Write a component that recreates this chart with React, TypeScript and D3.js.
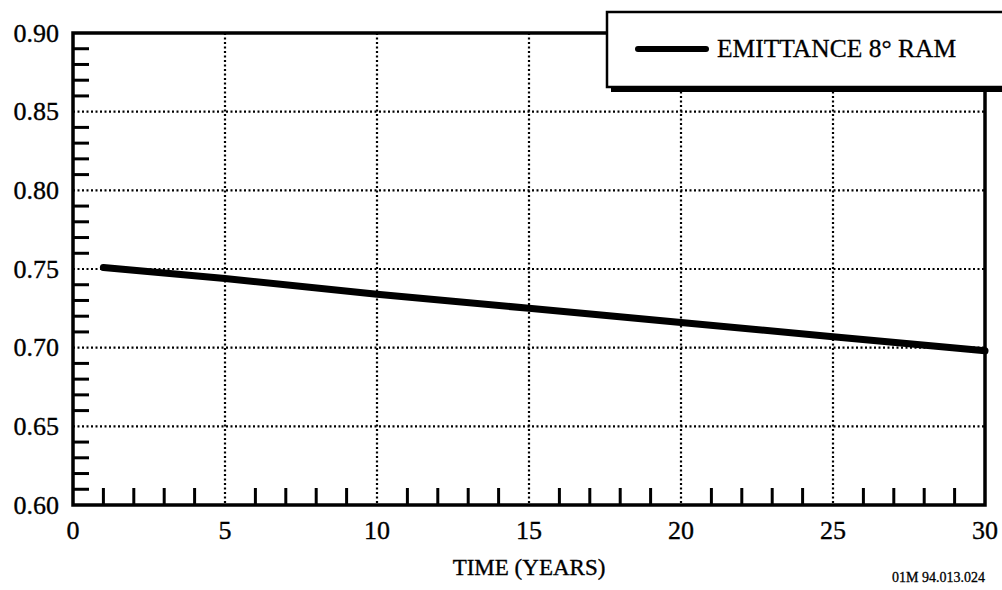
import { useEffect, useRef } from 'react';
import * as d3 from 'd3';

// Emittance at 8 degrees RAM over time
const years = [1, 5, 10, 15, 20, 25, 30];
const emittance = [0.751, 0.744, 0.734, 0.725, 0.716, 0.707, 0.698];

const xTicks = [0, 5, 10, 15, 20, 25, 30];
const yTicks = [0.6, 0.65, 0.7, 0.75, 0.8, 0.85, 0.9];
const legendLabel = 'EMITTANCE 8° RAM';
const xTitle = 'TIME (YEARS)';
const figureId = '01M 94.013.024';

const App = () => {
  const svgRef = useRef<SVGSVGElement>(null);

  useEffect(() => {
    if (!svgRef.current) return;
    const root = d3.select(svgRef.current);
    root.selectAll('*').remove();

    const margin = { top: 33, right: 17, bottom: 85, left: 73 };
    const width = 1002 - margin.left - margin.right;
    const height = 590 - margin.top - margin.bottom;
    const font = '"Liberation Serif", "Times New Roman", serif';

    const svg = root.append('g').attr('transform', `translate(${margin.left},${margin.top})`);

    const x = d3.scaleLinear().domain([0, 30]).range([0, width]);
    const y = d3.scaleLinear().domain([0.6, 0.9]).range([height, 0]);

    // Dotted grid
    svg
      .selectAll('.vgrid')
      .data(xTicks.filter(d => d > 0 && d < 30))
      .enter()
      .append('line')
      .attr('x1', d => x(d))
      .attr('x2', d => x(d))
      .attr('y1', 0)
      .attr('y2', height)
      .attr('stroke', '#000')
      .attr('stroke-width', 2.2)
      .attr('stroke-dasharray', '2 2.5');

    svg
      .selectAll('.hgrid')
      .data(yTicks.filter(d => d > 0.6 && d < 0.9))
      .enter()
      .append('line')
      .attr('x1', 0)
      .attr('x2', width)
      .attr('y1', d => y(d))
      .attr('y2', d => y(d))
      .attr('stroke', '#000')
      .attr('stroke-width', 2.2)
      .attr('stroke-dasharray', '2 2.5');

    // Minor ticks, pointing inward
    const xMinor = d3.range(1, 30).filter(d => d % 5 !== 0);
    svg
      .selectAll('.xminor')
      .data(xMinor)
      .enter()
      .append('line')
      .attr('x1', d => x(d))
      .attr('x2', d => x(d))
      .attr('y1', height)
      .attr('y2', height - 17)
      .attr('stroke', '#000')
      .attr('stroke-width', 3);

    const yMinor = d3.range(61, 90).filter(d => d % 5 !== 0).map(d => d / 100);
    svg
      .selectAll('.yminor')
      .data(yMinor)
      .enter()
      .append('line')
      .attr('x1', 0)
      .attr('x2', 16)
      .attr('y1', d => y(d))
      .attr('y2', d => y(d))
      .attr('stroke', '#000')
      .attr('stroke-width', 3);

    // Frame
    svg
      .append('rect')
      .attr('x', 0)
      .attr('y', 0)
      .attr('width', width)
      .attr('height', height)
      .attr('fill', 'none')
      .attr('stroke', '#000')
      .attr('stroke-width', 3.5);

    // Data line
    const line = d3
      .line<number>()
      .x((_, i) => x(years[i]))
      .y(d => y(d));

    svg
      .append('path')
      .datum(emittance)
      .attr('fill', 'none')
      .attr('stroke', '#000')
      .attr('stroke-width', 7)
      .attr('stroke-linecap', 'round')
      .attr('d', line);

    // Axis labels (regular serif, a touch heavier like a scan)
    const label = (sel: any, size: number, weight = 0.35) =>
      sel
        .attr('font-family', font)
        .attr('font-size', size)
        .attr('fill', '#000')
        .attr('stroke', '#000')
        .attr('stroke-width', weight);

    svg
      .selectAll('.ylab')
      .data(yTicks)
      .enter()
      .append('text')
      .attr('x', -14)
      .attr('y', d => y(d) + 8.5)
      .attr('text-anchor', 'end')
      .call((s: any) => label(s, 26))
      .text(d => d.toFixed(2));

    svg
      .selectAll('.xlab')
      .data(xTicks)
      .enter()
      .append('text')
      .attr('x', d => x(d))
      .attr('y', height + 34)
      .attr('text-anchor', 'middle')
      .call((s: any) => label(s, 26))
      .text(d => d);

    svg
      .append('text')
      .attr('x', width / 2)
      .attr('y', height + 70)
      .attr('text-anchor', 'middle')
      .call((s: any) => label(s, 23))
      .text(xTitle);

    svg
      .append('text')
      .attr('x', width)
      .attr('y', height + 77)
      .attr('text-anchor', 'end')
      .call((s: any) => label(s, 14, 0.3))
      .text(figureId);

    // Legend box with heavy shadow
    const lg = root.append('g').attr('transform', 'translate(607,12)');
    lg.append('rect')
      .attr('x', 4)
      .attr('y', 4)
      .attr('width', 500)
      .attr('height', 76)
      .attr('fill', '#000');
    lg.append('rect')
      .attr('x', 0)
      .attr('y', 0)
      .attr('width', 500)
      .attr('height', 75)
      .attr('fill', '#fff')
      .attr('stroke', '#000')
      .attr('stroke-width', 2.5);
    lg.append('line')
      .attr('x1', 31)
      .attr('x2', 99)
      .attr('y1', 37)
      .attr('y2', 37)
      .attr('stroke', '#000')
      .attr('stroke-width', 6)
      .attr('stroke-linecap', 'round');
    lg.append('text')
      .attr('x', 110)
      .attr('y', 45)
      .call((s: any) => label(s, 25.5, 0.3))
      .text(legendLabel);
  }, []);

  return (
    <svg
      ref={svgRef}
      width={1002}
      height={590}
      style={{ position: 'absolute', left: 0, top: 0, background: '#fff' }}
    />
  );
};

export default App;
